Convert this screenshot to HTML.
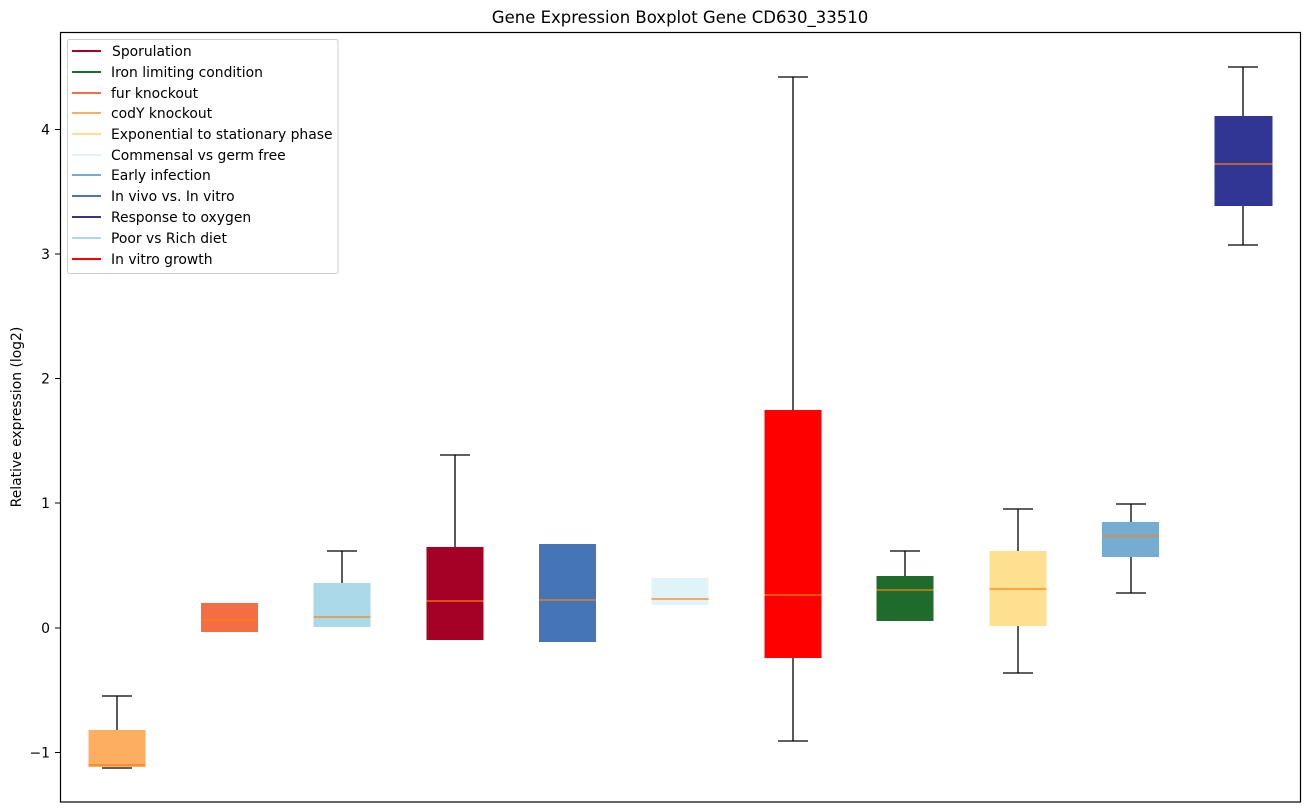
<!DOCTYPE html>
<html><head><meta charset="utf-8"><style>
body{margin:0;background:#fff;}
svg{display:block;font-family:"DejaVu Sans","Liberation Sans",sans-serif;}
</style></head><body>
<svg width="1309" height="812" viewBox="0 0 1309 812" xmlns="http://www.w3.org/2000/svg">
<rect width="1309" height="812" fill="#fff"/>
<text x="680" y="23" font-size="16.5" text-anchor="middle" fill="#000">Gene Expression Boxplot Gene CD630_33510</text>
<text transform="translate(21,417) rotate(-90)" font-size="13.9" text-anchor="middle" fill="#000">Relative expression (log2)</text>
<g font-size="13.9" fill="#000" text-anchor="end">
<line x1="55" y1="129.5" x2="60" y2="129.5" stroke="#000"/><text x="50" y="134.5">4</text>
<line x1="55" y1="254" x2="60" y2="254" stroke="#000"/><text x="50" y="259">3</text>
<line x1="55" y1="378.5" x2="60" y2="378.5" stroke="#000"/><text x="50" y="383.5">2</text>
<line x1="55" y1="503" x2="60" y2="503" stroke="#000"/><text x="50" y="508">1</text>
<line x1="55" y1="628" x2="60" y2="628" stroke="#000"/><text x="50" y="633">0</text>
<line x1="55" y1="752.5" x2="60" y2="752.5" stroke="#000"/><text x="50" y="757.5">−1</text>
</g>
<g stroke="#000" stroke-width="1.3">
<line x1="117" y1="696" x2="117" y2="730"/><line x1="102" y1="696" x2="132" y2="696"/><line x1="102" y1="768" x2="132" y2="768"/>
<line x1="342" y1="551" x2="342" y2="583"/><line x1="327" y1="551" x2="357" y2="551"/>
<line x1="455" y1="455" x2="455" y2="547"/><line x1="440" y1="455" x2="470" y2="455"/>
<line x1="793" y1="77" x2="793" y2="410"/><line x1="778" y1="77" x2="808" y2="77"/>
<line x1="793" y1="658" x2="793" y2="741"/><line x1="778" y1="741" x2="808" y2="741"/>
<line x1="905" y1="551" x2="905" y2="576"/><line x1="890" y1="551" x2="920" y2="551"/>
<line x1="1018" y1="509" x2="1018" y2="551"/><line x1="1003" y1="509" x2="1033" y2="509"/>
<line x1="1018" y1="626" x2="1018" y2="673"/><line x1="1003" y1="673" x2="1033" y2="673"/>
<line x1="1131" y1="504" x2="1131" y2="522"/><line x1="1116" y1="504" x2="1146" y2="504"/>
<line x1="1131" y1="557" x2="1131" y2="593"/><line x1="1116" y1="593" x2="1146" y2="593"/>
<line x1="1243" y1="67" x2="1243" y2="116"/><line x1="1228" y1="67" x2="1258" y2="67"/>
<line x1="1243" y1="206" x2="1243" y2="245"/><line x1="1228" y1="245" x2="1258" y2="245"/>
</g>
<g>
<rect x="88.5" y="730" width="57" height="37" fill="#fdae61"/>
<rect x="201" y="603" width="57" height="29" fill="#f46d43"/>
<rect x="313.5" y="583" width="57" height="44" fill="#abd9e9"/>
<rect x="426.5" y="547" width="57" height="93" fill="#a50026"/>
<rect x="539" y="544" width="57" height="98" fill="#4575b4"/>
<rect x="651.5" y="578" width="57" height="27" fill="#e0f3f8"/>
<rect x="764.5" y="410" width="57" height="248" fill="#ff0000"/>
<rect x="876.5" y="576" width="57" height="45" fill="#1f6b2b"/>
<rect x="989.5" y="551" width="57" height="75" fill="#fee090"/>
<rect x="1102" y="522" width="57" height="35" fill="#74add1"/>
<rect x="1214.5" y="116" width="58" height="90" fill="#313695"/>
</g>
<g stroke="#ff7f0e" stroke-width="1.3">
<line x1="88.5" y1="765" x2="145.5" y2="765"/>
<line x1="201" y1="620" x2="258" y2="620"/>
<line x1="313.5" y1="617" x2="370.5" y2="617"/>
<line x1="426.5" y1="601" x2="483.5" y2="601"/>
<line x1="539" y1="600" x2="596" y2="600"/>
<line x1="651.5" y1="599" x2="708.5" y2="599"/>
<line x1="764.5" y1="595" x2="821.5" y2="595"/>
<line x1="876.5" y1="590" x2="933.5" y2="590"/>
<line x1="989.5" y1="589" x2="1046.5" y2="589"/>
<line x1="1102" y1="536" x2="1159" y2="536"/>
<line x1="1214.5" y1="164" x2="1272.5" y2="164"/>
</g>
<rect x="60.5" y="32.5" width="1240" height="769.5" fill="none" stroke="#000" stroke-width="1.2"/>
<rect x="67.5" y="39.5" width="270.5" height="234" rx="2" fill="#fff" fill-opacity="0.8" stroke="#ccc"/>
<g font-size="13.9" fill="#000" stroke-width="2">
<line x1="72" y1="51" x2="101" y2="51" stroke="#a50026"/><text x="112" y="56">Sporulation</text>
<line x1="72" y1="72" x2="101" y2="72" stroke="#1f6b2b"/><text x="111" y="77">Iron limiting condition</text>
<line x1="72" y1="93" x2="101" y2="93" stroke="#f46d43"/><text x="111" y="98">fur knockout</text>
<line x1="72" y1="113" x2="101" y2="113" stroke="#fdae61"/><text x="111" y="118">codY knockout</text>
<line x1="72" y1="134" x2="101" y2="134" stroke="#fee090"/><text x="111" y="139">Exponential to stationary phase</text>
<line x1="72" y1="155" x2="101" y2="155" stroke="#e0f3f8"/><text x="111" y="160">Commensal vs germ free</text>
<line x1="72" y1="175" x2="101" y2="175" stroke="#74add1"/><text x="111" y="180">Early infection</text>
<line x1="72" y1="196" x2="101" y2="196" stroke="#4575b4"/><text x="111" y="201">In vivo vs. In vitro</text>
<line x1="72" y1="217" x2="101" y2="217" stroke="#313695"/><text x="111" y="222">Response to oxygen</text>
<line x1="72" y1="238" x2="101" y2="238" stroke="#abd9e9"/><text x="111" y="243">Poor vs Rich diet</text>
<line x1="72" y1="259" x2="101" y2="259" stroke="#ff0000"/><text x="111" y="264">In vitro growth</text>
</g>
</svg>
</body></html>
